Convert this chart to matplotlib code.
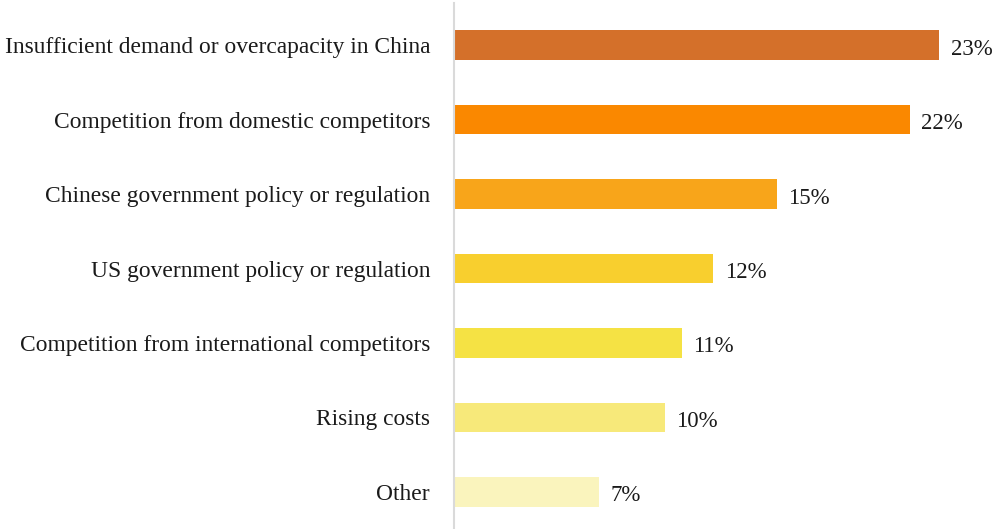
import matplotlib
matplotlib.use("Agg")
import matplotlib.pyplot as plt

categories = [
    "Insufficient demand or overcapacity in China",
    "Competition from domestic competitors",
    "Chinese government policy or regulation",
    "US government policy or regulation",
    "Competition from international competitors",
    "Rising costs",
    "Other",
]
shares = [23.0, 21.6, 15.3, 12.3, 10.8, 10.0, 6.9]
colors = ["#D4702A", "#FA8800", "#F8A51A", "#F8CF2E", "#F5E244", "#F7E97A", "#FAF4BD"]

plt.rcParams["font.family"] = ["Liberation Serif", "DejaVu Serif"]

fig = plt.figure(figsize=(9.96, 5.29), dpi=100)
ax = fig.add_axes([0.4555, 0.0, 0.9855 - 0.4555, 0.9943])

ypos = list(range(len(categories)))
ax.barh(ypos, shares, height=0.4, color=colors, left=0)

for y, v in zip(ypos, shares):
    ax.text(v + 0.55, y + 0.02, f"{v:.0f}%", va="center_baseline", ha="left",
            fontsize=16.5, color="#1a1a1a")

ax.set_xlim(0, 25)
ax.set_ylim(6.497, -0.564)
ax.set_yticks(ypos)
ax.set_yticklabels(categories, fontsize=16.9, color="#1a1a1a")
ax.tick_params(axis="y", length=0, pad=17)
ax.set_xticks([])

for side in ["top", "right", "bottom"]:
    ax.spines[side].set_visible(False)
ax.spines["left"].set_color("#DADADA")
ax.spines["left"].set_linewidth(1.5)

fig.savefig("out.png", dpi=100)
